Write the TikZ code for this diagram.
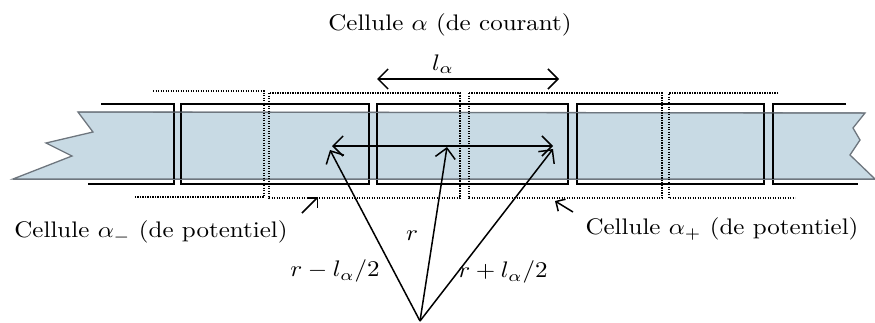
\documentclass[tikz,border=0pt]{standalone}
\usetikzlibrary{arrows.meta}
\definecolor{bandfill}{RGB}{200,218,228}
\definecolor{bandline}{RGB}{110,118,126}
\tikzset{
  band/.style={fill=bandfill,draw=bandline,line width=1.3pt,line join=miter},
  cellbox/.style={draw=black,line width=2pt},
  potbox/.style={draw=black,line width=1.5pt,dash pattern=on 1.3pt off 1.2pt},
  barb/.style={line width=1.5pt,{Straight Barb[length=10pt,width=20pt,line width=1.5pt]}-{Straight Barb[length=10pt,width=20pt,line width=1.5pt]}},
  ray/.style={line width=1.5pt,-{Straight Barb[length=10pt,width=20pt,line width=1.5pt]}},
  pointer/.style={line width=1.5pt,-{Straight Barb[length=7pt,width=14pt,line width=1.5pt]}},
  lbl/.style={font=\normalsize,xscale=2.5,yscale=2.25,inner sep=0pt}
}
\begin{document}
\begin{tikzpicture}[x=1pt,y=-1pt]
\useasboundingbox (0,0) rectangle (875,322);
% band
\draw[band] (78,112) -- (865,113) -- (853,128) -- (860,140) -- (850,155) -- (875,179)
  -- (13,179) -- (72,156) -- (46,143) -- (93,132) -- cycle;
% solid cells
\draw[cellbox] (101,104) -- (174,104) -- (174,184) -- (88,184);
\draw[cellbox] (181,104) rectangle (369,184);
\draw[cellbox] (377,104) rectangle (568,184);
\draw[cellbox] (577,104) rectangle (764,184);
\draw[cellbox] (846,104) -- (773,104) -- (773,184) -- (858,184);
% band edges visible inside cells
\draw[bandline,line width=1pt] (78,112) -- (865,113);
\draw[bandline,line width=1pt] (13,179) -- (875,179);
% dotted potential cells
\draw[potbox] (153,91) -- (264,91) -- (264,197) -- (135,197);
\draw[potbox] (269,93) rectangle (460,198);
\draw[potbox] (469,93) rectangle (662,198);
\draw[potbox] (778,93) -- (669,93) -- (669,198) -- (795,198);
% coordinates
\coordinate (P) at (420,321);
\coordinate (tl) at (330,150);
\coordinate (tm) at (447,147);
\coordinate (tr) at (553,149);
\coordinate (hl) at (332,146);
\coordinate (hr) at (553,146);
\coordinate (la) at (377,79);
\coordinate (lb) at (559,79);
% arrows
\draw[barb] (la) -- (lb);
\draw[barb] (hl) -- (hr);
\draw[ray] (P) -- (tl);
\draw[ray] (P) -- (tm);
\draw[ray] (P) -- (tr);
% labels
\node[lbl] (title) at (450,25) {Cellule $\alpha$ (de courant)};
\node[lbl] (lal) at (443,64) {$l_\alpha$};
\node[lbl] (cm) at (151,232) {Cellule $\alpha_-$ (de potentiel)};
\node[lbl] (cp) at (722,229) {Cellule $\alpha_+$ (de potentiel)};
\node[lbl] (r) at (412,236) {$r$};
\node[lbl] (rm) at (335,271) {$r-l_\alpha/2$};
\node[lbl] (rp) at (503,272) {$r+l_\alpha/2$};
\coordinate (am0) at (302,213);
\coordinate (am1) at (318,197);
\coordinate (ap0) at (573,212);
\coordinate (ap1) at (555,201);
\draw[pointer] (am0) -- (am1);
\draw[pointer] (ap0) -- (ap1);
\end{tikzpicture}
\end{document}
